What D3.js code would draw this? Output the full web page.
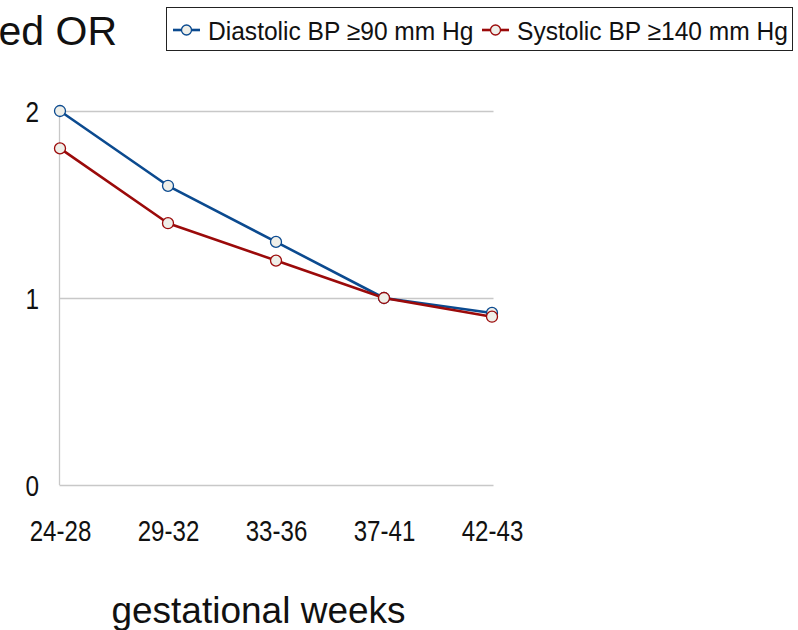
<!DOCTYPE html>
<html>
<head>
<meta charset="utf-8">
<script src="https://cdn.jsdelivr.net/npm/d3@7"></script>
<style>
html,body{margin:0;padding:0;background:#fff;}
svg{display:block;}
</style>
</head>
<body>
<svg id="chart" width="798" height="630"></svg>
<script>
const categories = ["24-28", "29-32", "33-36", "37-41", "42-43"];
const diastolic = [2.0, 1.6, 1.3, 1.0, 0.92];
const systolic = [1.8, 1.4, 1.2, 1.0, 0.9];
const yTicks = [0, 1, 2];
const seriesNames = ["Diastolic BP \u226590 mm Hg", "Systolic BP \u2265140 mm Hg"];
const seriesColors = ["#0b4a8f", "#9b0a0a"];
const titleText = "Adjusted OR";
const xTitle = "gestational weeks";

const FONT = "Liberation Sans, Arial, sans-serif";
const svg = d3.select("#chart");
const x = d3.scalePoint().domain(categories).range([60, 492]).padding(0);
const y = d3.scaleLinear().domain([0, 2]).range([485, 111]);

// gridlines
const grid = d3.axisLeft(y).tickValues(yTicks).tickSize(-434).tickFormat("");
svg.append("g").attr("transform", "translate(59.5,0)").call(grid)
  .call(g => g.select(".domain").remove())
  .call(g => g.selectAll("line").attr("stroke", "#c8c8c8").attr("stroke-width", 1.3));
// y axis line
svg.append("line").attr("x1", 59.5).attr("x2", 59.5).attr("y1", y(2)).attr("y2", y(0))
  .attr("stroke", "#c8c8c8").attr("stroke-width", 1.3);

// y tick labels (condensed)
const yAxis = d3.axisLeft(y).tickValues(yTicks).tickSize(0).tickPadding(0).tickFormat(d3.format("d"));
svg.append("g").attr("transform", "translate(39,0)").call(yAxis)
  .call(g => g.select(".domain").remove())
  .call(g => g.selectAll("text").attr("font-family", FONT).attr("font-size", 29).attr("fill", "#111")
    .attr("dy", "0.36em").attr("x", 0).attr("transform", "scale(0.84,1)"));

// x tick labels (condensed)
const xAxis = d3.axisBottom(x).tickSize(0).tickPadding(0);
svg.append("g").attr("transform", "translate(0,520)").call(xAxis)
  .call(g => g.select(".domain").remove())
  .call(g => g.selectAll("text").attr("font-family", FONT).attr("font-size", 29).attr("fill", "#111")
    .attr("dy", "0.71em").attr("transform", "scale(0.83,1)"));

// series
const allSeries = [diastolic, systolic];
const line = d3.line().x((d, i) => x(categories[i])).y(d => y(d));
allSeries.forEach((vals, si) => {
  svg.append("path").datum(vals).attr("d", line).attr("fill", "none")
    .attr("stroke", seriesColors[si]).attr("stroke-width", 2.6).attr("stroke-linejoin", "round");
});
allSeries.forEach((vals, si) => {
  svg.append("g").selectAll("circle").data(vals).join("circle")
    .attr("cx", (d, i) => x(categories[i])).attr("cy", d => y(d)).attr("r", 5.5)
    .attr("fill", "#efefe9").attr("stroke", seriesColors[si]).attr("stroke-width", 1.3);
});

// title (clipped at left, as in the original)
svg.append("text").attr("x", 117).attr("y", 45).attr("text-anchor", "end")
  .attr("font-family", FONT).attr("font-size", 41).attr("fill", "#111")
  .text(titleText);

// x axis title
svg.append("text").attr("x", 258.5).attr("y", 623).attr("text-anchor", "middle")
  .attr("font-family", FONT).attr("font-size", 37).attr("fill", "#111")
  .text(xTitle);

// legend
const leg = svg.append("g");
leg.append("rect").attr("x", 166.5).attr("y", 7.5).attr("width", 626).attr("height", 43)
  .attr("fill", "#fff").attr("stroke", "#222").attr("stroke-width", 1);
const legX = [173, 482];
seriesNames.forEach((name, i) => {
  const g = leg.append("g").attr("transform", `translate(${legX[i]},30)`);
  g.append("line").attr("x1", 0).attr("x2", 27).attr("y1", 0).attr("y2", 0)
    .attr("stroke", seriesColors[i]).attr("stroke-width", 2.6);
  g.append("circle").attr("cx", 13.5).attr("cy", 0).attr("r", 5)
    .attr("fill", "#efefe9").attr("stroke", seriesColors[i]).attr("stroke-width", 1.3);
  g.append("g").attr("transform", "translate(35,9.5) scale(0.945,1)")
    .append("text").attr("x", 0).attr("y", 0)
    .attr("font-family", FONT).attr("font-size", 26).attr("fill", "#111").text(name);
});
</script>
</body>
</html>
